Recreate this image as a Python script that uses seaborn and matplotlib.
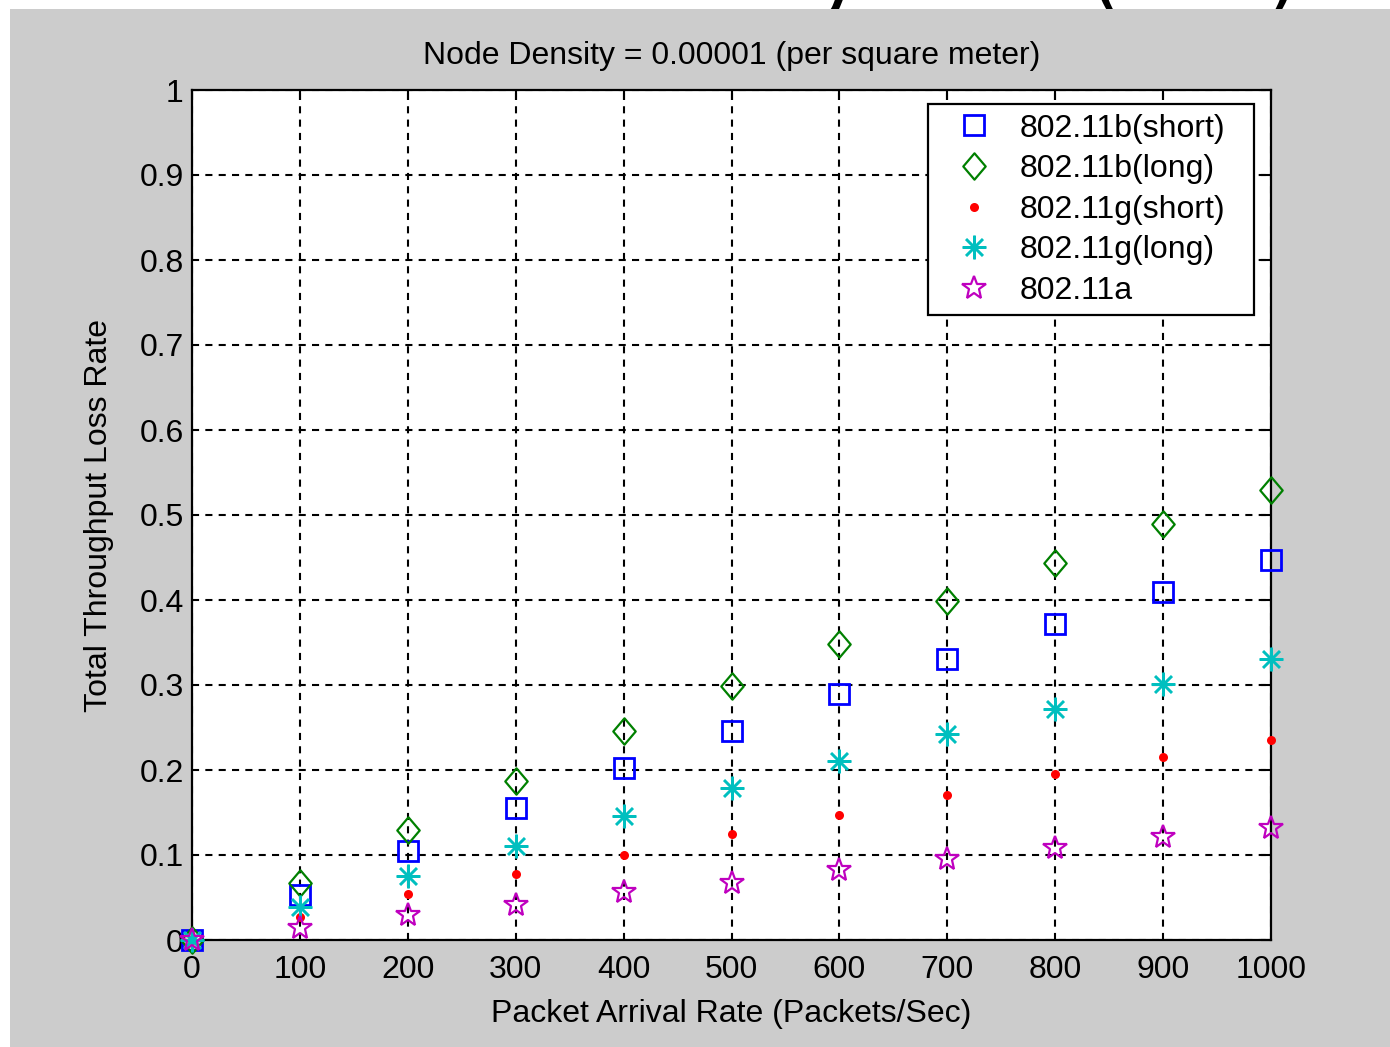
import numpy as np
import pandas as pd
import matplotlib
matplotlib.use("Agg")
import matplotlib.pyplot as plt
import seaborn as sns
from matplotlib.patches import Rectangle
from matplotlib.path import Path

# Data
rates = [0, 100, 200, 300, 400, 500, 600, 700, 800, 900, 1000]
b_short = [0, 0.053, 0.105, 0.155, 0.202, 0.246, 0.289, 0.331, 0.372, 0.409, 0.447]
b_long = [0, 0.067, 0.129, 0.187, 0.246, 0.299, 0.348, 0.399, 0.444, 0.489, 0.529]
g_short = [0, 0.027, 0.054, 0.078, 0.100, 0.125, 0.147, 0.171, 0.195, 0.215, 0.235]
g_long = [0, 0.039, 0.075, 0.111, 0.146, 0.179, 0.211, 0.242, 0.272, 0.301, 0.331]
a_std = [0, 0.014, 0.029, 0.041, 0.056, 0.067, 0.082, 0.095, 0.108, 0.121, 0.132]

series_names = ['802.11b(short)', '802.11b(long)', '802.11g(short)', '802.11g(long)', '802.11a']
x_ticks = [0, 100, 200, 300, 400, 500, 600, 700, 800, 900, 1000]
y_ticks = [0, 0.1, 0.2, 0.3, 0.4, 0.5, 0.6, 0.7, 0.8, 0.9, 1]
y_tick_labels = ['0', '0.1', '0.2', '0.3', '0.4', '0.5', '0.6', '0.7', '0.8', '0.9', '1']

df = pd.DataFrame({
    'rate': rates * 5,
    'loss': b_short + b_long + g_short + g_long + a_std,
    'protocol': np.repeat(series_names, len(rates)),
})

sns.set_style("white")
plt.rcParams['font.family'] = ['Liberation Sans', 'DejaVu Sans']
plt.rcParams['text.color'] = 'black'
plt.rcParams['axes.labelcolor'] = 'black'

fig = plt.figure(figsize=(13.9, 10.47), dpi=100)
fig.patch.set_facecolor('white')

# cut-off heading fragments from the page above, hidden partly by the grey panel
for xp, s in [(0.603, 'y'), (0.795, '('), (0.923, ')')]:
    fig.text(xp, 0.999, s, fontsize=60, family='DejaVu Sans', ha='center', va='baseline', zorder=0)

fig.patches.append(Rectangle((10 / 1390, 0), 1 - 10 / 1390, 1 - 9 / 1047,
                             transform=fig.transFigure, facecolor='#cccccc',
                             edgecolor='none', zorder=1))

ax = fig.add_axes([192 / 1390, 107 / 1047, 1079 / 1390, 850 / 1047])
ax.set_zorder(2)
ax.set_facecolor('white')

diamond = Path([(0, 1), (0.85, 0), (0, -1), (-0.85, 0), (0, 1)],
               [Path.MOVETO, Path.LINETO, Path.LINETO, Path.LINETO, Path.CLOSEPOLY])

styles = {
    '802.11b(short)': dict(marker='s', ms=15, mfc='none', mec='#0000ff', mew=2),
    '802.11b(long)': dict(marker=diamond, ms=19, mfc='none', mec='#008000', mew=1.6),
    '802.11g(short)': dict(marker='o', ms=6.5, mfc='#ff0000', mec='#ff0000', mew=0),
    '802.11g(long)': dict(marker=(8, 2, 0), ms=17, mfc='none', mec='#00bfbf', mew=1.8),
    '802.11a': dict(marker='*', ms=18, mfc='none', mec='#bf00bf', mew=1.6),
}

for name in series_names:
    sub = df[df['protocol'] == name]
    sns.lineplot(data=sub, x='rate', y='loss', ax=ax, linestyle='', label=name,
                 clip_on=False, zorder=5, **styles[name])

ax.set_xlim(0, 1000)
ax.set_ylim(0, 1)
ax.set_xticks(x_ticks)
ax.set_xticklabels([str(v) for v in x_ticks])
ax.set_yticks(y_ticks)
ax.set_yticklabels(y_tick_labels)
ax.tick_params(direction='in', length=7, width=1.5, top=True, right=True,
               labelsize=23, colors='black', pad=6)
ax.tick_params(axis='x', pad=11)
ax.grid(True, color='black', linestyle=(0, (3.4, 3)), linewidth=1.5)
for sp in ax.spines.values():
    sp.set_color('black')
    sp.set_linewidth(1.6)

ax.set_title('Node Density = 0.00001 (per square meter)', fontsize=23, pad=19)
ax.set_xlabel('Packet Arrival Rate (Packets/Sec)', fontsize=23, labelpad=10)
ax.set_ylabel('Total Throughput Loss Rate', fontsize=23, labelpad=18)

leg = ax.legend(loc='upper left', bbox_to_anchor=(0.682, 0.734, 0.302, 0.2495),
                mode='expand', borderaxespad=0,
                fontsize=23, frameon=True, fancybox=False, framealpha=1,
                edgecolor='black', handlelength=2.3, handletextpad=0.26,
                labelspacing=0.33, borderpad=0.3)
leg.get_frame().set_linewidth(1.6)
leg.set_zorder(10)

fig.savefig('out.png', dpi=100)
